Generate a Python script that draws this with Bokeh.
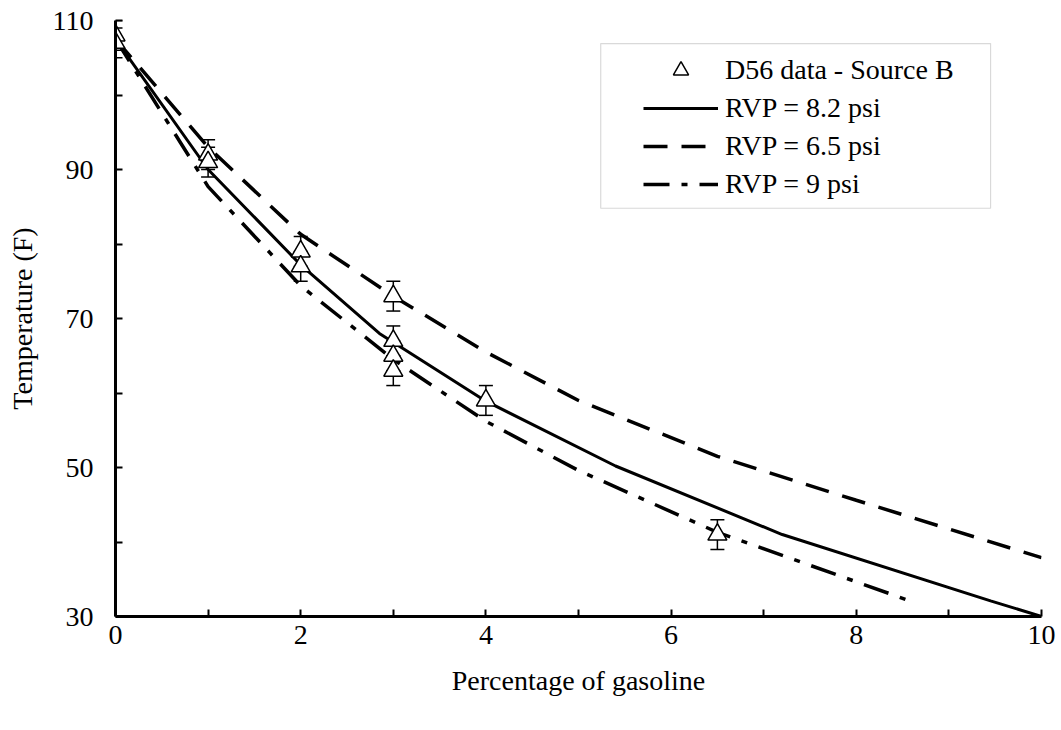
from bokeh.plotting import figure
from bokeh.models import (ColumnDataSource, Range1d, FixedTicker, Whisker, TeeHead,
                          Legend, LegendItem, BoxAnnotation)
from bokeh.embed import file_html
from bokeh.resources import INLINE

# ---- data ----
pts_x = [0, 0, 1, 1, 2, 2, 3, 3, 3, 3, 4, 6.5]
pts_y = [108, 107, 92, 91, 79, 77, 73, 67, 65, 63, 59, 41]
pts_err = [2, 2, 2, 2, 2, 2, 2, 2, 2, 2, 2, 2]

rvp82_x = [0, 1, 2, 2.85, 4, 5.4, 7.2, 9.45, 10]
rvp82_y = [107.5, 90, 77.2, 68, 58.9, 50.2, 41, 32.1, 30]

rvp65_x = [0, 1, 2, 3, 4, 5, 6.5, 8, 10]
rvp65_y = [107.5, 93, 81.3, 73, 65.5, 59, 51.5, 45.6, 37.9]

rvp9_x = [0, 1, 2, 3, 4, 5, 6.5, 8.6]
rvp9_y = [107.5, 87.7, 74.4, 64.5, 56.2, 49.6, 41.3, 32]

x_ticks = [0, 2, 4, 6, 8, 10]
x_minor = [1, 3, 5, 7, 9]
y_ticks = [30, 50, 70, 90, 110]
y_minor = [40, 60, 80, 100]

labels = ["D56 data - Source B", "RVP = 8.2 psi", "RVP = 6.5 psi", "RVP = 9 psi"]

FONT = "Liberation Serif"
FS = "28px"

p = figure(width=1061, height=730, output_backend="svg", toolbar_location=None,
           x_range=Range1d(0, 10), y_range=Range1d(30, 110),
           min_border_left=115, min_border_right=20, min_border_top=20,
           min_border_bottom=114, background_fill_color="white",
           border_fill_color="white")
p.outline_line_color = None
p.grid.visible = False

p.xaxis.axis_label = "Percentage of gasoline"
p.yaxis.axis_label = "Temperature (F)"
p.xaxis.ticker = FixedTicker(ticks=x_ticks, minor_ticks=x_minor)
p.yaxis.ticker = FixedTicker(ticks=y_ticks, minor_ticks=y_minor)

for ax in (p.xaxis[0], p.yaxis[0]):
    ax.axis_line_width = 3
    ax.axis_line_color = "black"
    ax.major_tick_in = 7
    ax.major_tick_out = 0
    ax.minor_tick_in = 7
    ax.minor_tick_out = 0
    ax.major_tick_line_width = 2
    ax.minor_tick_line_width = 2
    ax.major_tick_line_color = "black"
    ax.minor_tick_line_color = "black"
    ax.major_label_text_font = FONT
    ax.major_label_text_font_size = FS
    ax.major_label_text_color = "black"
    ax.axis_label_text_font = FONT
    ax.axis_label_text_font_size = FS
    ax.axis_label_text_font_style = "normal"
    ax.axis_label_text_color = "black"

p.yaxis.major_label_standoff = 22
p.yaxis.axis_label_standoff = 12
p.xaxis.major_label_standoff = 9
p.xaxis.axis_label_standoff = 18

# ---- lines ----
r82 = p.line(rvp82_x, rvp82_y, line_color="black", line_width=3)
r65 = p.line(rvp65_x, rvp65_y, line_color="black", line_width=3.5, line_dash="24 14")
r9 = p.line(rvp9_x, rvp9_y, line_color="black", line_width=3.5, line_dash="26 12 6 12")

# ---- data points with error bars ----
src = ColumnDataSource(dict(
    x=pts_x, y=pts_y,
    upper=[y + e for y, e in zip(pts_y, pts_err)],
    lower=[y - e for y, e in zip(pts_y, pts_err)],
))
wh = Whisker(source=src, base="x", upper="upper", lower="lower",
             line_color="black", line_width=1.5,
             upper_head=TeeHead(size=14, line_width=1.5, line_color="black"),
             lower_head=TeeHead(size=14, line_width=1.5, line_color="black"))
wh.level = "underlay"
p.add_layout(wh)
rpts = p.scatter("x", "y", source=src, marker="triangle", size=19,
                 fill_color="white", line_color="black", line_width=1.5)

# ---- legend ----
frame = BoxAnnotation(left=5.24, right=9.45, bottom=84.8, top=106.9,
                      fill_color="white", fill_alpha=1.0,
                      line_color="#808080", line_width=1.2)
p.add_layout(frame)

legend = Legend(items=[LegendItem(label=labels[0], renderers=[rpts]),
                       LegendItem(label=labels[1], renderers=[r82]),
                       LegendItem(label=labels[2], renderers=[r65]),
                       LegendItem(label=labels[3], renderers=[r9])],
                location=(528, 413), orientation="vertical",
                glyph_width=75, glyph_height=38, label_height=38,
                spacing=0, padding=0, margin=0, label_standoff=7,
                border_line_color=None, background_fill_alpha=0,
                label_text_color="black", label_text_font=FONT,
                label_text_font_size=FS)
p.add_layout(legend)

open("out.html", "w").write(file_html(p, INLINE))
